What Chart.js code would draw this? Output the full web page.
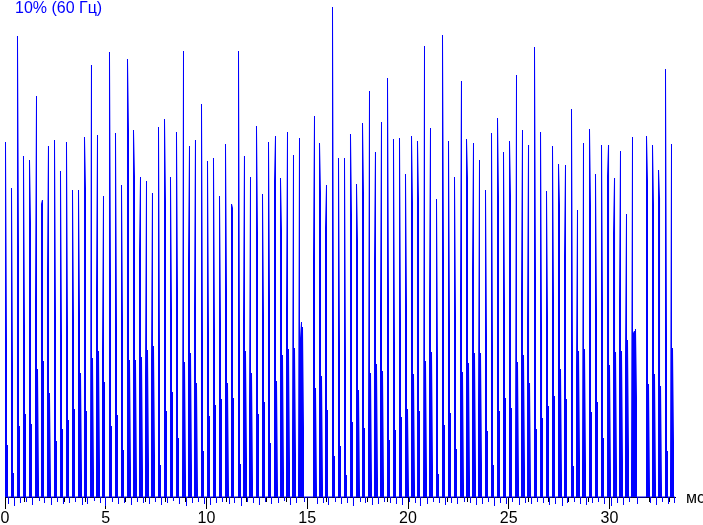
<!DOCTYPE html>
<html>
<head>
<meta charset="utf-8">
<script src="https://cdn.jsdelivr.net/npm/chart.js@4.4.1/dist/chart.umd.min.js"></script>
<style>
html, body { margin: 0; padding: 0; background: #fff; }
</style>
</head>
<body>
<canvas id="chart" width="703" height="525"></canvas>
<script>
var chartTitle = "10% (60 Гц)";
var axisUnit = "мс";
var xMax = 33.25;        // ms, end of the time axis
var sampleMs = 0.0496;   // one sample of the recorder

// start of every light pulse, ms
var spikeStart = [
  0.025, 0.323, 0.620, 0.918, 1.216, 1.514, 1.811, 2.109, 2.457, 2.754,
  3.052, 3.350, 3.648, 3.945, 4.243, 4.541, 4.839, 5.186, 5.484, 5.782,
  6.079, 6.377, 6.675, 6.973, 7.270, 7.618, 7.916, 8.213, 8.511, 8.809,
  9.107, 9.404, 9.752, 10.050, 10.347, 10.645, 10.943, 11.241, 11.588, 11.836,
  12.134, 12.481, 12.779, 13.077, 13.375, 13.672, 13.970, 14.268, 14.566, 15.310,
  15.608, 15.906, 16.253, 16.551, 16.849, 17.146, 17.444, 17.742, 18.040, 18.337,
  18.635, 18.983, 19.280, 19.578, 19.876, 20.174, 20.471, 20.769, 21.067, 21.414,
  21.712, 22.010, 22.308, 22.605, 22.903, 23.201, 23.499, 23.846, 24.144, 24.442,
  24.739, 25.037, 25.335, 25.633, 25.931, 26.278, 26.576, 26.873, 27.171, 27.469,
  27.767, 28.114, 28.362, 28.660, 29.007, 29.305, 29.603, 29.901, 30.199, 30.496,
  30.794, 31.092, 31.836, 32.134, 32.432, 32.779, 33.027
];

// brightness of the successive samples of each pulse
var spikeCols = [
  [355,154,52], [309,131,24], [461,251,71], [341,172,83], [337,274,73],
  [195,401,128,14], [293,297,136], [224,351,104,10], [357,180,56], [326,162,68],
  [355,171,77], [307,177,88], [307,183,124,19], [360,309,86], [29,432,139,25],
  [207,362,146,31], [147,301,115], [445,222,71], [364,169,82], [312,176,47],
  [438,367,137,30], [367,321,137,18], [246,320,140,25], [122,316,147,32], [134,304,151,42],
  [370,145,32], [378,295,86], [320,188,105], [365,207,59], [20,446,135,20],
  [238,351,144,27], [186,357,114,8], [393,158,46], [336,164,81], [339,168,92],
  [301,173,98], [353,205,114,6], [293,289,99], [446,149,33], [174,341,146,39],
  [91,320,124,15], [371,265,83], [303,181,95], [355,198,54], [316,361,116,7],
  [319,267,142,25], [188,365,148,34], [59,342,149,42], [16,359,159,175,170,69], [239,381,109,6],
  [354,304,121,10], [269,312,87], [490,158,41], [339,152,51], [339,136,22],
  [363,283,75], [313,256,107,4], [374,304,69], [68,406,124,13], [236,345,133,19],
  [191,375,126,13], [419,201,57], [358,155,67], [359,174,80], [323,191,88,6],
  [361,294,123,10], [356,299,86], [10,451,136,23], [197,369,145,30], [298,137,23],
  [462,239,72], [356,172,84], [320,181,48], [203,416,125,12], [358,319,134,18],
  [228,354,144,24], [92,337,144,32], [307,160,66], [364,150,32], [379,300,86],
  [345,195,99], [356,301,89], [33,422,135,16], [204,367,142,28], [176,352,114,7],
  [450,220,68], [365,167,79], [306,180,91], [351,199,101], [333,292,128,17],
  [241,332,98], [388,146,31], [130,287,146,39], [29,354,148,32], [368,291,85],
  [323,184,95], [352,193,59], [321,352,132,21], [264,319,145,27], [197,346,146,35],
  [139,283,157,45], [20,360,164,166,168,99], [361,316,113,8], [352,292,123,12], [327,299,111,8],
  [428,159,46], [17,353,149,55]
];

// undershoot below the zero line after each pulse
var spikeDip = [
  7, 9, 6, 5, 8, 4, 6, 8, 5, 7,
  6, 5, 8, 7, 4, 6, 9, 5, 7, 6,
  8, 5, 6, 7, 5, 8, 6, 4, 7, 9,
  6, 5, 7, 8, 6, 5, 7, 6, 9, 5,
  6, 8, 5, 7, 6, 4, 8, 6, 5, 7,
  6, 8, 5, 7, 6, 9, 5, 6, 8, 7,
  5, 6, 7, 8, 5, 6, 9, 7, 5, 6,
  8, 6, 7, 5, 6, 8, 7, 5, 9, 6,
  7, 5, 8, 6, 7, 5, 6, 8, 7, 9,
  6, 5, 7, 8, 6, 5, 7, 9, 6, 8,
  5, 7, 6, 8, 5, 7, 6
];

// build the trace: every sample is drawn as a stroke from the zero line
var trace = [{x: 0, y: 0}];
for (var i = 0; i < spikeStart.length; i++) {
    var cols = spikeCols[i];
    var x = spikeStart[i];
    for (var j = 0; j < cols.length; j++) {
        x = spikeStart[i] + j * sampleMs;
        if (j % 2 === 0) {
            trace.push({x: x, y: 0});
            trace.push({x: x, y: cols[j]});
        } else {
            trace.push({x: x, y: cols[j]});
            trace.push({x: x, y: 0});
        }
    }
    if (cols.length % 2 === 1) trace.push({x: x, y: 0});
    x += sampleMs;
    trace.push({x: x, y: 0});
    trace.push({x: x, y: -spikeDip[i]});
    trace.push({x: x, y: 0});
}
trace.push({x: xMax, y: 0});

var FONT = '"Liberation Sans", Arial, sans-serif';

var decor = {
    id: "decor",
    beforeDatasetsDraw: function(chart) {
        // short ticks every millisecond
        var ctx = chart.ctx, xs = chart.scales.x;
        var y0 = Math.round(chart.scales.y.getPixelForValue(0));
        ctx.save();
        ctx.strokeStyle = "#000";
        ctx.lineWidth = 1;
        xs.ticks.forEach(function(tk) {
            if (tk.value % 5 === 0) return;
            var px = Math.round(xs.getPixelForValue(tk.value)) - 0.5;
            ctx.beginPath();
            ctx.moveTo(px, y0);
            ctx.lineTo(px, y0 + 5);
            ctx.stroke();
        });
        ctx.restore();
    },
    afterDraw: function(chart) {
        var ctx = chart.ctx;
        ctx.save();
        ctx.font = "16px " + FONT;
        ctx.textBaseline = "alphabetic";
        ctx.fillStyle = "#0000ff";
        ctx.fillText(chartTitle, 15, 13);
        ctx.fillStyle = "#000";
        ctx.fillText(axisUnit, 686, 503);
        ctx.restore();
    }
};

new Chart(document.getElementById("chart"), {
    type: "line",
    data: {
        datasets: [{
            data: trace,
            borderColor: "#0000ff",
            borderWidth: 1,
            pointRadius: 0,
            tension: 0,
            fill: false,
            clip: false
        }]
    },
    options: {
        responsive: false,
        animation: false,
        devicePixelRatio: 1,
        layout: { padding: { left: 5, right: 28, top: 0, bottom: 0 } },
        plugins: { legend: { display: false }, tooltip: { enabled: false } },
        scales: {
            x: {
                type: "linear",
                min: 0,
                max: xMax,
                ticks: {
                    stepSize: 1,
                    includeBounds: false,
                    autoSkip: false,
                    maxRotation: 0,
                    padding: 0,
                    color: "#000",
                    font: { family: FONT, size: 16 },
                    callback: function(v) { return v % 5 === 0 ? String(v) : ""; }
                },
                grid: {
                    drawOnChartArea: false,
                    tickLength: 12,
                    tickColor: function(c) { return c.tick && c.tick.value % 5 === 0 ? "#000" : "rgba(0,0,0,0)"; }
                },
                border: { color: "#000", width: 1 },
                afterFit: function(s) { s.height = 28; }
            },
            y: {
                display: false,
                min: 0,
                max: 497
            }
        }
    },
    plugins: [decor]
});
</script>
</body>
</html>
